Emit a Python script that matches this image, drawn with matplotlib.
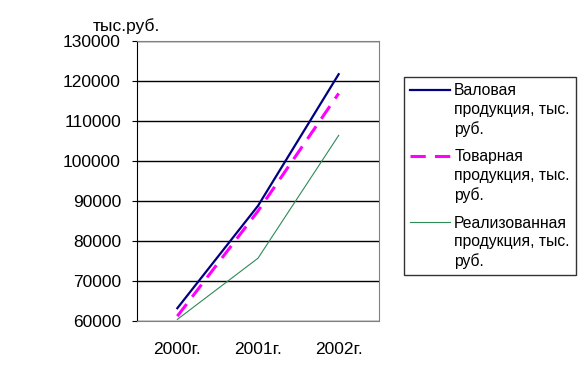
import numpy as np
import matplotlib.pyplot as plt
from matplotlib.legend_handler import HandlerLine2D

plt.rcParams['font.family'] = ['Liberation Sans', 'DejaVu Sans']

years = ["2000г.", "2001г.", "2002г."]
gross = [63200, 88800, 121700]
commodity = [61200, 87500, 116900]
sold = [60400, 75700, 106400]
series_labels = [
    "Валовая\nпродукция, тыс.\nруб.",
    "Товарная\nпродукция, тыс.\nруб.",
    "Реализованная\nпродукция, тыс.\nруб.",
]

fs = 12.5
leg_fs = 11.3
leg_lsp = 1.3


class TopLineHandler(HandlerLine2D):
    # put the legend key next to the first text line, as Excel does
    def create_artists(self, legend, orig_handle, xdescent, ydescent,
                       width, height, fontsize, trans):
        artists = super().create_artists(legend, orig_handle, xdescent, ydescent,
                                         width, height, fontsize, trans)
        for a in artists:
            a.set_ydata(np.asarray(a.get_ydata()) + fontsize * leg_lsp)
        return artists


fig = plt.figure(figsize=(5.8, 3.72), dpi=100)
ax = fig.add_axes([137 / 580, 1 - 321 / 372, 242 / 580, 280 / 372])

x = range(len(years))
ax.plot(x, gross, color="#000080", lw=1.6, label=series_labels[0])
ax.plot(x, commodity, color="#FF00FF", lw=2.2, dashes=(5, 3), label=series_labels[1])
ax.plot(x, sold, color="#2E8B57", lw=0.8, label=series_labels[2])

ax.set_xlim(-0.5, 2.5)
ax.set_ylim(60000, 130000)
ax.set_yticks(range(60000, 130001, 10000))
ax.set_xticks(list(x))
ax.set_xticklabels(years, fontsize=fs)
ax.tick_params(axis="x", length=0, pad=15)
ax.tick_params(axis="y", direction="out", length=3.6, color="black", labelsize=fs, pad=8)
ax.yaxis.grid(True, color="black", lw=1)
ax.set_axisbelow(True)

for side in ("top", "right", "bottom"):
    ax.spines[side].set_color("#808080")
ax.spines["left"].set_color("black")

fig.text(93 / 580, 1 - 26 / 372, "тыс.руб.", fontsize=fs, va="center", ha="left")

handles, labels = ax.get_legend_handles_labels()
leg = fig.legend(handles, labels, loc="upper left", bbox_to_anchor=(404 / 580, 1 - 77 / 372),
                 fontsize=leg_fs, frameon=True, fancybox=False, edgecolor="black",
                 handlelength=2.5, handletextpad=0.3, labelspacing=0.82,
                 borderpad=0.4, borderaxespad=0,
                 handler_map={h: TopLineHandler() for h in handles})
leg.get_frame().set_linewidth(1)
for t in leg.get_texts():
    t.set_linespacing(leg_lsp)

fig.savefig("out.png", dpi=100, facecolor="white")
